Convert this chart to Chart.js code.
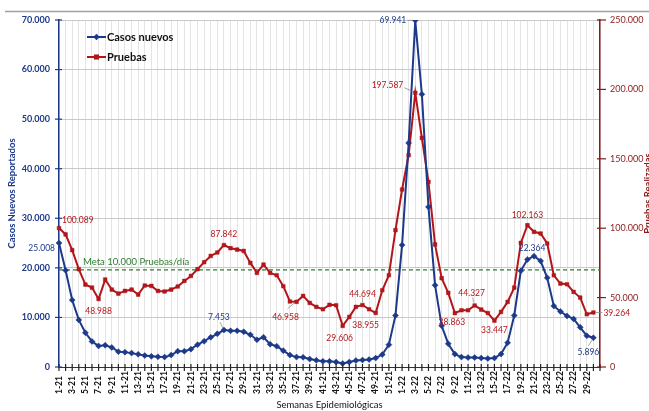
<!DOCTYPE html>
<html>
<head>
<meta charset="utf-8">
<script src="https://cdn.jsdelivr.net/npm/chart.js@4.4.1/dist/chart.umd.min.js"></script>
<style>
  html, body { margin: 0; padding: 0; background: #fff; overflow: hidden; }
</style>
</head>
<body>
<canvas id="myChart" width="649" height="411"></canvas>
<script>
const semanas = [
  "1-21","2-21","3-21","4-21","5-21","6-21","7-21","8-21","9-21","10-21",
  "11-21","12-21","13-21","14-21","15-21","16-21","17-21","18-21","19-21","20-21",
  "21-21","22-21","23-21","24-21","25-21","26-21","27-21","28-21","29-21","30-21",
  "31-21","32-21","33-21","34-21","35-21","36-21","37-21","38-21","39-21","40-21",
  "41-21","42-21","43-21","44-21","45-21","46-21","47-21","48-21","49-21","50-21",
  "51-21","52-21","1-22","2-22","3-22","4-22","5-22","6-22","7-22","8-22",
  "9-22","10-22","11-22","12-22","13-22","14-22","15-22","16-22","17-22","18-22",
  "19-22","20-22","21-22","22-22","23-22","24-22","25-22","26-22","27-22","28-22",
  "29-22","30-22","31-22"
];

const casosNuevos = [
  25008, 19500, 13500, 9500, 6900, 5150, 4250, 4400, 3950, 3100,
  3000, 2800, 2550, 2300, 2150, 2050, 2000, 2400, 3200, 3200,
  3600, 4500, 5200, 6000, 6700, 7453, 7300, 7300, 7100, 6500,
  5500, 6000, 4600, 4200, 3300, 2400, 2000, 1950, 1600, 1350,
  1150, 1150, 1000, 700, 1000, 1300, 1400, 1500, 1800, 2500,
  4500, 10400, 24600, 45200, 69941, 55000, 32300, 16500, 8300, 4700,
  2600, 2000, 1900, 1900, 1800, 1700, 1800, 2600, 4900, 10400,
  19400, 21700, 22364, 21400, 18000, 12300, 11200, 10300, 9700, 8000,
  6300, 5896, null
];

const pruebas = [
  100089, 95500, 84200, 70500, 59400, 57200, 48988, 63000, 55800, 52900,
  54800, 55800, 52200, 58700, 58400, 54800, 54400, 55800, 58000, 62000,
  65600, 70500, 75500, 80000, 82500, 87842, 85600, 84600, 83600, 75000,
  67800, 73800, 67800, 66100, 58200, 47200, 46958, 51200, 46200, 43300,
  41600, 44800, 44500, 29606, 36100, 43300, 44694, 41600, 38955, 55300,
  66100, 98600, 127900, 152700, 197587, 165100, 133400, 88300, 64000, 53400,
  38863, 40900, 40900, 44327, 41400, 38900, 33447, 39700, 46900, 57200,
  89400, 102163, 97400, 96200, 89000, 66100, 60100, 59600, 54100, 50000,
  38000, 39264, null
];

const metaPruebasSemana = 70000;
const metaTexto = "Meta 10.000 Pruebas/día";

const azul = "#1d3a8a";
const rojo = "#b2161b";
const rojoEje = "#8b1a1a";
const verde = "#2e7d32";
const fuente = "Lato, 'Open Sans', sans-serif";

const fmt = (v) => String(v).replace(/\B(?=(\d{3})+(?!\d))/g, ".");

// etiquetas de datos: dataset, indice, desplazamiento y linea guia
const etiquetas = [
  { ds: 0, i: 0, dx: -4, dy: 5, align: "right" },
  { ds: 1, i: 0, dx: 3, dy: -8, align: "left" },
  { ds: 1, i: 6, dx: 0, dy: 12, align: "center" },
  { ds: 1, i: 25, dx: 0, dy: -11, align: "center" },
  { ds: 0, i: 25, dx: -5, dy: -13, align: "center", guia: [-4, -8, -1, -2] },
  { ds: 1, i: 36, dx: -11, dy: 15, align: "center", guia: [-9, 7, -2, 1] },
  { ds: 1, i: 43, dx: -3, dy: 12, align: "center" },
  { ds: 1, i: 46, dx: 0, dy: -11, align: "center", guia: [0, -7, 0, -3] },
  { ds: 1, i: 48, dx: -10, dy: 12, align: "center" },
  { ds: 0, i: 54, dx: -9, dy: 0, align: "right", guia: [-8, 0, -3, 0] },
  { ds: 1, i: 54, dx: -12, dy: -7, align: "right", guia: [-11, -5, -4, -2] },
  { ds: 1, i: 60, dx: -3, dy: 9, align: "center" },
  { ds: 1, i: 63, dx: -3, dy: -12, align: "center", guia: [-2, -8, -1, -3] },
  { ds: 1, i: 66, dx: 0, dy: 10, align: "center" },
  { ds: 1, i: 71, dx: 0, dy: -10, align: "center" },
  { ds: 0, i: 72, dx: -2, dy: -8, align: "center" },
  { ds: 0, i: 81, dx: -5, dy: 14, align: "center", guia: [-5, 8, -1, 2] },
  { ds: 1, i: 81, dx: 10, dy: 1, align: "left", guia: [2, 0, 9, 0] }
];

function marcador(ctx, estilo, x, y, r, color) {
  ctx.save();
  ctx.fillStyle = color;
  ctx.beginPath();
  if (estilo === "rectRot") {
    ctx.moveTo(x, y - r);
    ctx.lineTo(x + r, y);
    ctx.lineTo(x, y + r);
    ctx.lineTo(x - r, y);
  } else {
    ctx.rect(x - r * 0.8, y - r * 0.8, r * 1.6, r * 1.6);
  }
  ctx.closePath();
  ctx.fill();
  ctx.restore();
}

function marcaEje(ctx, x1, y1, x2, y2, color) {
  ctx.strokeStyle = color;
  ctx.beginPath();
  ctx.moveTo(x1, y1);
  ctx.lineTo(x2, y2);
  ctx.stroke();
}

const extras = {
  id: "extras",
  beforeDatasetsDraw(chart) {
    const { ctx, chartArea } = chart;
    const y = chart.scales.y1.getPixelForValue(metaPruebasSemana);
    ctx.save();
    ctx.strokeStyle = verde;
    ctx.lineWidth = 1.3;
    ctx.setLineDash([4, 3]);
    ctx.beginPath();
    ctx.moveTo(chartArea.left, y);
    ctx.lineTo(chartArea.right, y);
    ctx.stroke();
    ctx.setLineDash([]);
    ctx.fillStyle = verde;
    ctx.font = "9.5px " + fuente;
    ctx.textAlign = "left";
    ctx.textBaseline = "middle";
    ctx.fillText(metaTexto, chartArea.left + 24, y - 8);
    ctx.restore();
  },
  afterDraw(chart) {
    const { ctx, chartArea } = chart;
    const { x, y, y1 } = chart.scales;
    ctx.save();

    // linea superior del marco
    ctx.strokeStyle = "#a0a0a0";
    ctx.lineWidth = 1.5;
    ctx.beginPath();
    ctx.moveTo(5, 11.5);
    ctx.lineTo(649, 11.5);
    ctx.stroke();

    // marcas de los ejes (cruzan la linea del eje)
    ctx.lineWidth = 1.2;
    semanas.forEach((s, i) => {
      const px = x.getPixelForValue(i);
      marcaEje(ctx, px, chartArea.bottom - 3, px, chartArea.bottom + 4, "#222");
    });
    y.ticks.forEach((t) => {
      const py = y.getPixelForValue(t.value);
      marcaEje(ctx, chartArea.left - 4, py, chartArea.left + 3, py, azul);
    });
    y1.ticks.forEach((t) => {
      const py = y1.getPixelForValue(t.value);
      marcaEje(ctx, chartArea.right - 3, py, chartArea.right + 6, py, rojoEje);
    });

    // etiquetas del eje x (cada dos semanas, solo donde hay datos)
    ctx.fillStyle = "#111";
    ctx.font = "bold 8.5px " + fuente;
    ctx.textAlign = "left";
    ctx.textBaseline = "middle";
    semanas.forEach((s, i) => {
      if (i % 2 !== 0 || casosNuevos[i] == null) return;
      const px = x.getPixelForValue(i);
      ctx.save();
      ctx.translate(px, 394);
      ctx.rotate(-Math.PI / 2);
      ctx.fillText(s, 0, 0);
      ctx.restore();
    });

    // leyenda
    chart.data.datasets.forEach((d, k) => {
      const ly = 37 + k * 20;
      ctx.strokeStyle = d.borderColor;
      ctx.lineWidth = 2;
      ctx.beginPath();
      ctx.moveTo(87, ly);
      ctx.lineTo(106, ly);
      ctx.stroke();
      marcador(ctx, d.pointStyle, 96.5, ly, 3.2, d.borderColor);
      ctx.fillStyle = "#111";
      ctx.font = "bold 11px " + fuente;
      ctx.textAlign = "left";
      ctx.textBaseline = "middle";
      ctx.fillText(d.label, 107, ly);
    });

    // etiquetas de datos
    ctx.font = "8.5px " + fuente;
    ctx.textBaseline = "middle";
    etiquetas.forEach((e) => {
      const p = chart.getDatasetMeta(e.ds).data[e.i];
      const valor = chart.data.datasets[e.ds].data[e.i];
      if (e.guia) {
        ctx.strokeStyle = "#8c8c8c";
        ctx.lineWidth = 0.8;
        ctx.beginPath();
        ctx.moveTo(p.x + e.guia[0], p.y + e.guia[1]);
        ctx.lineTo(p.x + e.guia[2], p.y + e.guia[3]);
        ctx.stroke();
      }
      ctx.fillStyle = e.ds === 0 ? azul : rojo;
      ctx.textAlign = e.align;
      ctx.fillText(fmt(valor), p.x + e.dx, p.y + e.dy);
    });

    // titulo eje derecho (cortado por el borde, como en el original)
    ctx.translate(648, (chartArea.top + chartArea.bottom) / 2);
    ctx.rotate(-Math.PI / 2);
    ctx.fillStyle = rojoEje;
    ctx.font = "bold 9.5px " + fuente;
    ctx.textAlign = "center";
    ctx.textBaseline = "middle";
    ctx.fillText("Pruebas Realizadas", 0, 0);
    ctx.restore();
  }
};

const config = {
  type: "line",
  data: {
    labels: semanas,
    datasets: [
      {
        label: "Casos nuevos",
        data: casosNuevos,
        yAxisID: "y",
        borderColor: azul,
        backgroundColor: azul,
        borderWidth: 2,
        pointStyle: "rectRot",
        pointRadius: 3,
        pointBorderWidth: 0.5,
        tension: 0
      },
      {
        label: "Pruebas",
        data: pruebas,
        yAxisID: "y1",
        borderColor: rojo,
        backgroundColor: rojo,
        borderWidth: 2,
        pointStyle: "rect",
        pointRadius: 2.6,
        pointBorderWidth: 0.5,
        tension: 0
      }
    ]
  },
  options: {
    responsive: false,
    animation: false,
    devicePixelRatio: 1,
    layout: { padding: { top: 20, left: 0, right: 0, bottom: 0 } },
    plugins: { legend: { display: false }, tooltip: { enabled: false } },
    scales: {
      x: {
        offset: false,
        grid: { color: "#e4e4e4", drawTicks: false },
        border: { color: "#333", width: 1 },
        ticks: { display: false, autoSkip: false },
        title: {
          display: true,
          text: "Semanas Epidemiológicas",
          color: "#111",
          font: { family: fuente, size: 9.5 },
          padding: { top: 0, bottom: 0 }
        },
        afterFit: (s) => { s.height = 44; }
      },
      y: {
        position: "left",
        min: 0,
        max: 70000,
        ticks: {
          stepSize: 10000,
          color: azul,
          padding: 9,
          font: { family: fuente, size: 9, weight: "bold" },
          callback: (v) => fmt(v)
        },
        grid: { color: "#c8c8c8", drawTicks: false },
        border: { color: azul, width: 1.5 },
        title: {
          display: true,
          text: "Casos Nuevos Reportados",
          color: azul,
          font: { family: fuente, size: 9.5, weight: "bold" },
          padding: { top: 6, bottom: 0 }
        },
        afterFit: (s) => { s.width = 59; }
      },
      y1: {
        position: "right",
        min: 0,
        max: 250000,
        ticks: {
          stepSize: 50000,
          color: rojoEje,
          padding: 10,
          font: { family: fuente, size: 9 },
          callback: (v) => fmt(v)
        },
        grid: { drawOnChartArea: false, drawTicks: false },
        border: { color: rojoEje, width: 1.5 },
        afterFit: (s) => { s.width = 49; }
      }
    }
  },
  plugins: [extras]
};

const myChart = new Chart(document.getElementById("myChart"), config);
</script>
</body>
</html>
